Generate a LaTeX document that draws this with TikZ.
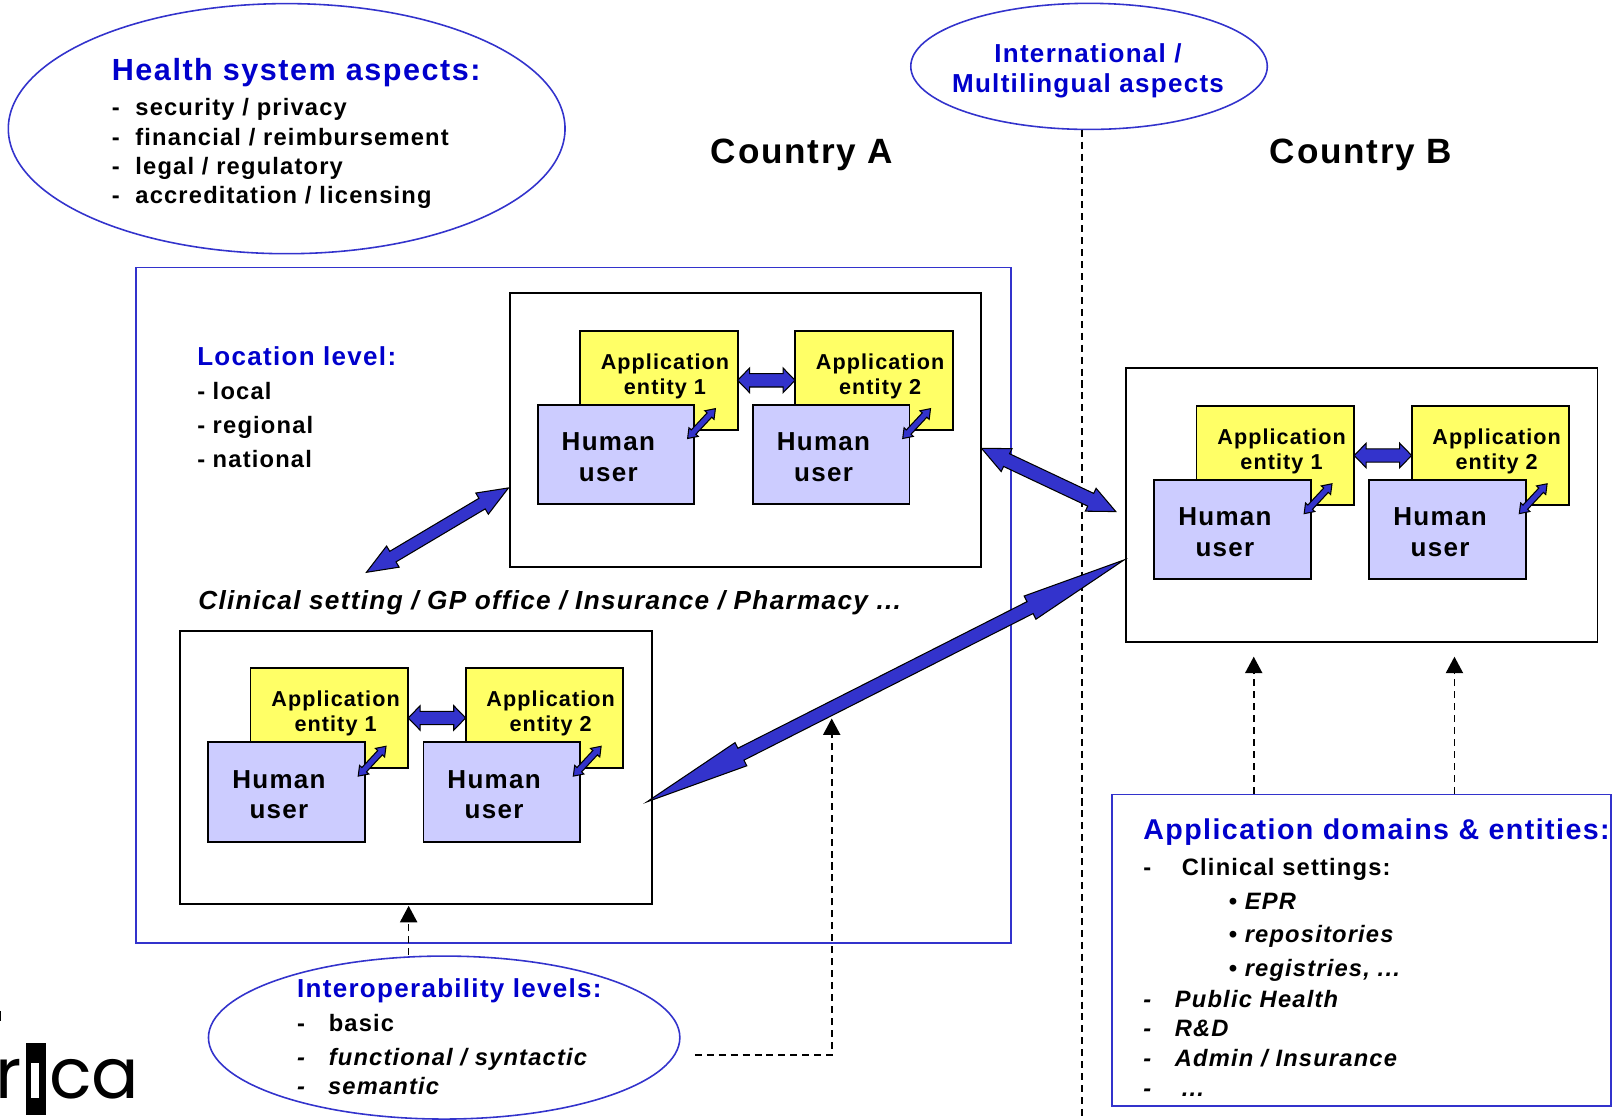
\documentclass[tikz,border=0pt]{standalone}
\usepackage{fontspec}
\setmainfont[LetterSpace=5]{Liberation Sans}
\newfontfamily\logofont{Poppins}
\usepackage{tikz}
\usetikzlibrary{arrows.meta}
\usetikzlibrary{calc}
\usetikzlibrary{shapes.geometric}
\definecolor{headblue}{HTML}{0000CC}
\definecolor{lineblue}{HTML}{3333CC}
\definecolor{appyellow}{HTML}{FFFF66}
\definecolor{userlilac}{HTML}{CCCCFF}
\tikzset{>={Triangle[length=4.7pt,width=4.9pt]},
  outerbox/.style={draw=lineblue,line width=0.45pt,inner sep=0pt,outer sep=0pt},
  sitebox/.style={draw=black,fill=white,line width=0.55pt,inner sep=0pt,outer sep=0pt,
    minimum width=134.2pt,minimum height=77.9pt},
  appbox/.style={draw=black,fill=appyellow,line width=0.55pt,inner sep=0pt,outer sep=0pt,
    minimum width=44.9pt,minimum height=28.3pt},
  userbox/.style={draw=black,fill=userlilac,line width=0.55pt,inner sep=0pt,outer sep=0pt,
    minimum width=44.6pt,minimum height=28.3pt},
  oval/.style={ellipse,draw=lineblue,fill=white,line width=0.45pt,inner sep=0pt,outer sep=0pt},
  apptext/.style={align=center,inner sep=0pt,font=\fontsize{6.15}{7.1}\selectfont\bfseries},
  usertext/.style={align=center,inner sep=0pt,font=\fontsize{7.4}{8.75}\selectfont\bfseries},
  heading/.style={anchor=base west,inner sep=0pt,text=headblue,font=\fontsize{8.15}{9}\selectfont\bfseries},
  smallheading/.style={heading,font=\fontsize{7.4}{9}\selectfont\bfseries},
  bigheading/.style={anchor=base west,inner sep=0pt,font=\fontsize{10}{12}\selectfont\bfseries},
  item/.style={anchor=base west,inner sep=0pt,font=\fontsize{6.75}{8}\selectfont\bfseries},
  itemit/.style={anchor=base west,inner sep=0pt,font=\fontsize{6.75}{8}\selectfont\bfseries\itshape},
  dashlink/.style={dashed,dash pattern=on 2pt off 1.4pt,line width=0.45pt}}
% from, to, head length, head half width, shaft half width
\newcommand{\linkarrow}[5]{
  \draw [fill=lineblue,draw=black,line width=0.3pt,line join=miter]
    (#1) -- ($(#1)!#3!(#2)!#4!90:(#2)$) -- ($(#1)!#3!(#2)!#5!90:(#2)$)
    -- ($(#2)!#3!(#1)!#5!-90:(#1)$) -- ($(#2)!#3!(#1)!#4!-90:(#1)$)
    -- (#2) -- ($(#2)!#3!(#1)!#4!90:(#1)$) -- ($(#2)!#3!(#1)!#5!90:(#1)$)
    -- ($(#1)!#3!(#2)!#5!-90:(#2)$) -- ($(#1)!#3!(#2)!#4!-90:(#2)$) -- cycle;
}
\newcommand{\itemdash}[1]{\makebox[#1][l]{-}}

\begin{document}
\begin{tikzpicture}[x=0.0102934cm,y=-0.0102934cm]
  \useasboundingbox (0,0) rectangle (1568,1088);

  \draw [outerbox] (132,260) rectangle (982,916);

  \foreach \n/\dx/\dy in {a/0/0,b/599/73,c/-320/328} {
    \begin{scope}[shift={(\dx,\dy)}]
      \node [sitebox] (box\n) at (724,417.5) {};
      \node [appbox] (appone\n) at (640,369.5) {};
      \node [appbox] (apptwo\n) at (849,369.5) {};
      \node [userbox] (userone\n) at (598.5,441.5) {};
      \node [userbox] (usertwo\n) at (807.5,441.5) {};
      \node [apptext] (apponetxt\n) at (646,365.5) {Application\\entity 1};
      \node [apptext] (apptwotxt\n) at (855,365.5) {Application\\entity 2};
      \node [usertext] (useronetxt\n) at (591,444) {Human\\user};
      \node [usertext] (usertwotxt\n) at (800,444) {Human\\user};
      \coordinate (tipone\n) at (668,426);
      \coordinate (tiponeb\n) at (695,397);
      \coordinate (tiptwo\n) at (877,426);
      \coordinate (tiptwob\n) at (904,397);
      \linkarrow{appone\n.east}{apptwo\n.west}{3.4pt}{3.5pt}{1.9pt}
      \linkarrow{tipone\n}{tiponeb\n}{2.5pt}{1.8pt}{0.9pt}
      \linkarrow{tiptwo\n}{tiptwob\n}{2.5pt}{1.8pt}{0.9pt}
    \end{scope}
  }

  % ovals
  \node [oval,minimum width=158.5pt,minimum height=71.2pt] (healthoval) at (278.5,125) {};
  \node [oval,minimum width=101.5pt,minimum height=35.9pt] (intloval) at (1058,64.5) {};
  \node [oval,minimum width=134.2pt,minimum height=46.4pt] (interoval) at (431.5,1008) {};

  % the border
  \coordinate (borderbot) at (1051,1088);
  \coordinate (bordertop) at (1051,126);
  \draw [dashlink] (bordertop) -- (borderbot);

  % links between sites
  \coordinate (linkoneb) at (356,556);
  \coordinate (linkonea) at (494,474);
  \coordinate (linktwoa) at (953.5,435.5);
  \coordinate (linktwob) at (1084,497);
  \coordinate (linkthreec) at (628.5,779);
  \coordinate (linkthreeb) at (1092,544);
  \linkarrow{linkoneb}{linkonea}{8.75pt}{3.5pt}{1.75pt}
  \linkarrow{linktwoa}{linktwob}{7.9pt}{3.6pt}{2pt}
  \linkarrow{linkthreec}{linkthreeb}{30pt}{3.7pt}{1.9pt}

  % domains box
  \node [outerbox,fill=white,minimum width=142.1pt,minimum height=88.7pt] (domainbox) at (1322.5,923) {};

  % dashed pointers
  \coordinate (ptrone) at (397,880);
  \coordinate (ptronefrom) at (397,928);
  \coordinate (ptrtwo) at (1218,638);
  \coordinate (ptrtwofrom) at (1218,771);
  \coordinate (ptrthree) at (1413,638);
  \coordinate (ptrthreefrom) at (1413,771);
  \coordinate (ptrfour) at (808,698);
  \coordinate (ptrfourfrom) at (675,1025);
  \draw [dashlink,->] (ptronefrom) -- (ptrone);
  \draw [dashlink,->] (ptrtwofrom) -- (ptrtwo);
  \draw [dashlink,->] (ptrthreefrom) -- (ptrthree);
  \draw [dashlink,->] (ptrfourfrom) -| (ptrfour);

  % health system
  \node [heading,font=\fontsize{8.7}{9}\selectfont\bfseries] (healthhead) at (108,78.5) {Health system aspects:};
  \node [item] (healthone) at (108,112) {\itemdash{6.7pt}security / privacy};
  \node [item] (healthtwo) at (108,141) {\itemdash{6.7pt}financial / reimbursement};
  \node [item] (healththree) at (108,170) {\itemdash{6.7pt}legal / regulatory};
  \node [item] (healthfour) at (108,198) {\itemdash{6.7pt}accreditation / licensing};

  % international
  \node [smallheading,anchor=center,align=center,font=\fontsize{7.4}{8.7}\selectfont\bfseries] (intlhead) at (1057,69) {International /\\Multilingual aspects};

  \node [bigheading] (countrya) at (690,158.5) {Country A};
  \node [bigheading] (countryb) at (1233,158.5) {Country B};

  % location
  \node [smallheading] (lochead) at (191,355) {Location level:};
  \node [item] (locone) at (191,388) {\itemdash{4.4pt}local};
  \node [item] (loctwo) at (191,421) {\itemdash{4.4pt}regional};
  \node [item] (locthree) at (191,454) {\itemdash{4.4pt}national};

  \node [itemit,font=\fontsize{7.45}{8}\selectfont\bfseries\itshape] (settings) at (192,592) {Clinical setting / GP office / Insurance / Pharmacy ...};

  % interoperability
  \node [smallheading] (interhead) at (288,969.5) {Interoperability levels:};
  \node [item] (interone) at (288,1002) {\itemdash{9pt}basic};
  \node [itemit] (intertwo) at (288,1035) {\itemdash{9pt}functional / syntactic};
  \node [itemit] (interthree) at (288,1063) {\itemdash{8.8pt}semantic};

  % domains
  \node [heading] (domhead) at (1110,816) {Application domains \& entities:};
  \node [item] (domone) at (1110,851) {\itemdash{11pt}Clinical settings:};
  \node [itemit] (domepr) at (1193,884) {\textbullet\ EPR};
  \node [itemit] (domrep) at (1193,916) {\textbullet\ repositories};
  \node [itemit] (domreg) at (1193,949) {\textbullet\ registries, ...};
  \node [itemit] (domtwo) at (1110,979) {\itemdash{9pt}Public Health};
  \node [itemit] (domthree) at (1110,1007) {\itemdash{9pt}R\&D};
  \node [itemit] (domfour) at (1110,1036) {\itemdash{9pt}Admin / Insurance};
  \node [itemit] (domfive) at (1110,1065) {\itemdash{11pt}...};

  % logo
  \draw [line width=0.4pt] (0,982) -- (0,992);
  \node [anchor=base west,inner sep=0pt,font=\logofont\fontsize{20}{20}\selectfont] (logor) at (-5,1067) {r};
  \node [fill=black,inner sep=0pt,outer sep=0pt,minimum width=5.8pt,minimum height=20.4pt] (logobar) at (35,1048) {};
  \node [fill=white,inner sep=0pt,outer sep=0pt,minimum width=2.3pt,minimum height=9.9pt] (logoslot) at (34,1050) {};
  \node [anchor=base west,inner sep=0pt,font=\logofont\fontsize{20}{20}\selectfont] (logoca) at (47,1067) {ca};
\end{tikzpicture}
\end{document}
